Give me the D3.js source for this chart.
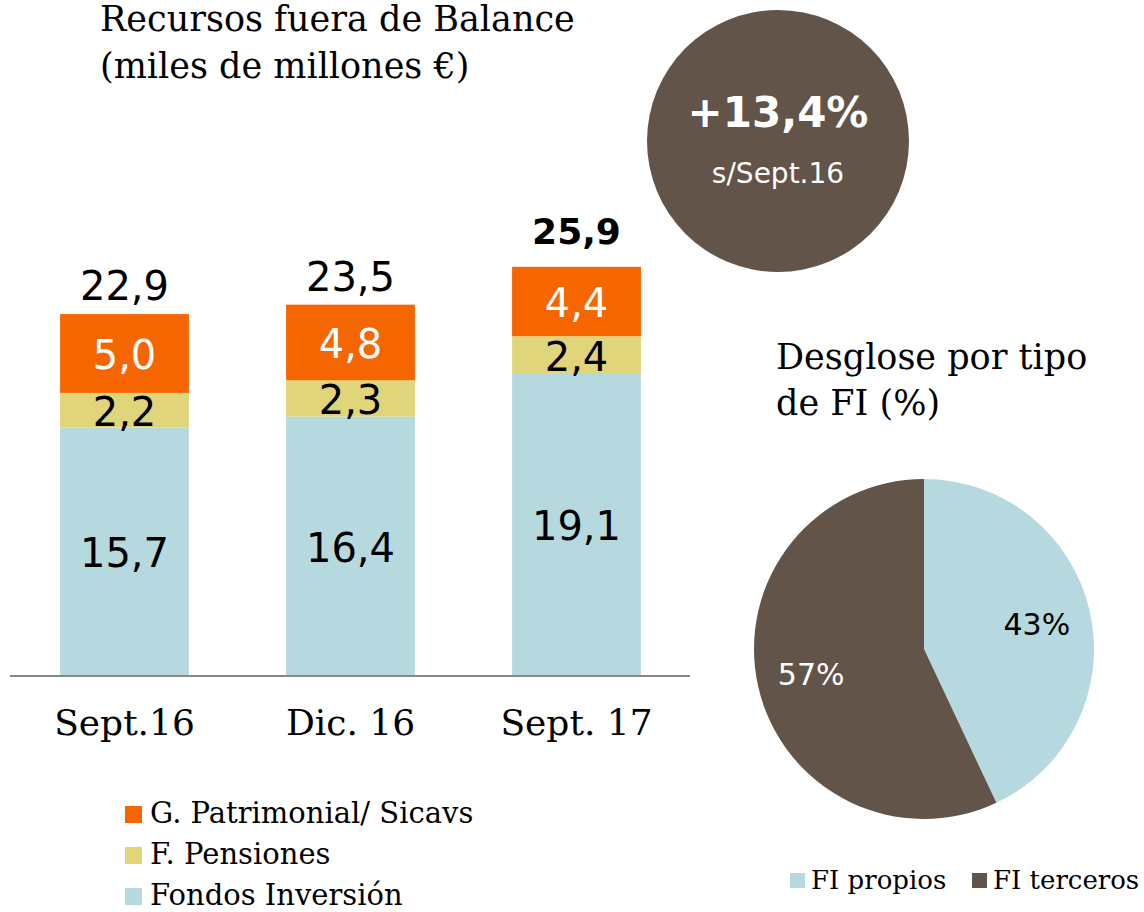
<!DOCTYPE html>
<html>
<head>
<meta charset="utf-8">
<script src="https://cdn.jsdelivr.net/npm/d3@7"></script>
<style>
  body { margin: 0; background: #fff; }
  text { font-family: "DejaVu Serif", serif; }
  .num { font-family: "DejaVu Sans", sans-serif; }
</style>
</head>
<body>
<div id="chart"></div>
<script>
const width = 1144,
  height = 912;

// data
const periods = ["Sept.16", "Dic. 16", "Sept. 17"];
const fondos = [15.7, 16.4, 19.1];
const pensiones = [2.2, 2.3, 2.4];
const patrimonial = [5.0, 4.8, 4.4];
const totals = [22.9, 23.5, 25.9];
const seriesNames = ["Fondos Inversión", "F. Pensiones", "G. Patrimonial/ Sicavs"];
const seriesColors = ["#b6d9df", "#e0d57a", "#f56600"];
const labelColors = ["#000", "#000", "#fff"];
const pieNames = ["FI propios", "FI terceros"];
const pieValues = [43, 57];
const pieColors = ["#b6d9df", "#625449"];
const growth = "+13,4%";
const growthSub = "s/Sept.16";

const fmt = v => d3.format(".1f")(v).replace(".", ",");

const svg = d3.select("#chart")
  .append("svg")
  .attr("width", width)
  .attr("height", height);

// title
const title = svg.append("text")
  .attr("font-size", 35)
  .attr("fill", "#000");
title.append("tspan").attr("x", 100).attr("y", 31).text("Recursos fuera de Balance");
title.append("tspan").attr("x", 100).attr("y", 78).text("(miles de millones €)");

// stacked bars
const rows = periods.map((p, i) => ({
  period: p,
  fondos: fondos[i],
  pensiones: pensiones[i],
  patrimonial: patrimonial[i]
}));
const keys = ["fondos", "pensiones", "patrimonial"];
const stacked = d3.stack().keys(keys)(rows);

const xScale = d3.scaleBand()
  .domain(periods)
  .range([11.5, 689.5])
  .paddingInner(0.43)
  .paddingOuter(0.215);

const yScale = d3.scaleLinear()
  .domain([0, 30])
  .range([675, 202.2]);

const layers = svg.selectAll(".layer")
  .data(stacked)
  .join("g")
  .attr("class", "layer")
  .attr("fill", (d, i) => seriesColors[i]);

layers.selectAll("rect")
  .data(d => d)
  .join("rect")
  .attr("x", d => xScale(d.data.period))
  .attr("y", d => yScale(d[1]))
  .attr("width", xScale.bandwidth())
  .attr("height", d => yScale(d[0]) - yScale(d[1]));

layers.each(function(layer, li) {
  d3.select(this).selectAll("text")
    .data(layer)
    .join("text")
    .attr("class", "num")
    .attr("x", d => xScale(d.data.period) + xScale.bandwidth() / 2)
    .attr("y", d => (yScale(d[0]) + yScale(d[1])) / 2 + 16)
    .attr("text-anchor", "middle")
    .attr("font-size", 40)
    .attr("fill", labelColors[li])
    .text(d => fmt(d[1] - d[0]));
});

svg.selectAll(".total")
  .data(periods)
  .join("text")
  .attr("class", "total num")
  .attr("x", d => xScale(d) + xScale.bandwidth() / 2)
  .attr("y", (d, i) => yScale(totals[i]) - (i === 2 ? 23 : 14))
  .attr("text-anchor", "middle")
  .attr("font-size", (d, i) => i === 2 ? 36 : 40)
  .attr("font-weight", (d, i) => i === 2 ? "bold" : "normal")
  .text((d, i) => fmt(totals[i]));

// axis
const xAxis = d3.axisBottom(xScale).tickSize(0).tickPadding(34);
const axisG = svg.append("g")
  .attr("transform", `translate(0,${yScale(0)})`)
  .call(xAxis);
axisG.select(".domain").remove();
axisG.selectAll("text")
  .attr("font-size", 36)
  .attr("font-family", "DejaVu Serif, serif")
  .attr("fill", "#000");
svg.append("line")
  .attr("x1", 10)
  .attr("x2", 690)
  .attr("y1", yScale(0) + 1)
  .attr("y2", yScale(0) + 1)
  .attr("stroke", "#888")
  .attr("stroke-width", 2);

// bar legend
const legend = svg.selectAll(".legend")
  .data([2, 1, 0])
  .join("g")
  .attr("class", "legend")
  .attr("transform", (d, i) => `translate(125,${814.5 + i * 41})`);
legend.append("rect")
  .attr("x", 0)
  .attr("y", -8.5)
  .attr("width", 17)
  .attr("height", 17)
  .attr("fill", d => seriesColors[d]);
legend.append("text")
  .attr("x", 25)
  .attr("y", 8.5)
  .attr("font-size", 29)
  .text(d => seriesNames[d]);

// growth bubble
svg.append("circle")
  .attr("cx", 778)
  .attr("cy", 141)
  .attr("r", 131)
  .attr("fill", "#625449");
svg.append("text")
  .attr("class", "num")
  .attr("x", 778)
  .attr("y", 127)
  .attr("text-anchor", "middle")
  .attr("font-size", 42)
  .attr("font-weight", "bold")
  .attr("fill", "#fff")
  .text(growth);
svg.append("text")
  .attr("class", "num")
  .attr("x", 778)
  .attr("y", 183)
  .attr("text-anchor", "middle")
  .attr("font-size", 28)
  .attr("fill", "#fff")
  .text(growthSub);

// pie subtitle
const sub = svg.append("text")
  .attr("font-size", 35)
  .attr("fill", "#000");
sub.append("tspan").attr("x", 776).attr("y", 369).text("Desglose por tipo");
sub.append("tspan").attr("x", 776).attr("y", 415).text("de FI (%)");

// pie
const pieR = 170;
const pie = d3.pie().sort(null)(pieValues);
const arc = d3.arc().innerRadius(0).outerRadius(pieR);
const labelArc = d3.arc().innerRadius(pieR * 0.68).outerRadius(pieR * 0.68);
const pieG = svg.append("g").attr("transform", "translate(924,649)");
pieG.selectAll("path")
  .data(pie)
  .join("path")
  .attr("d", arc)
  .attr("fill", (d, i) => pieColors[i]);
pieG.selectAll("text")
  .data(pie)
  .join("text")
  .attr("class", "num")
  .attr("transform", d => `translate(${labelArc.centroid(d)})`)
  .attr("dy", 11)
  .attr("text-anchor", "middle")
  .attr("font-size", 30)
  .attr("fill", (d, i) => i === 0 ? "#000" : "#fff")
  .text((d, i) => pieValues[i] + "%");

// pie legend
const pieLegendX = [790, 972];
const pl = svg.selectAll(".plegend")
  .data(pieNames)
  .join("g")
  .attr("class", "plegend")
  .attr("transform", (d, i) => `translate(${pieLegendX[i]},880)`);
pl.append("rect")
  .attr("x", 0)
  .attr("y", -7)
  .attr("width", 15)
  .attr("height", 15)
  .attr("fill", (d, i) => pieColors[i]);
pl.append("text")
  .attr("x", 21)
  .attr("y", 9)
  .attr("font-size", 26)
  .text(d => d);
</script>
</body>
</html>
